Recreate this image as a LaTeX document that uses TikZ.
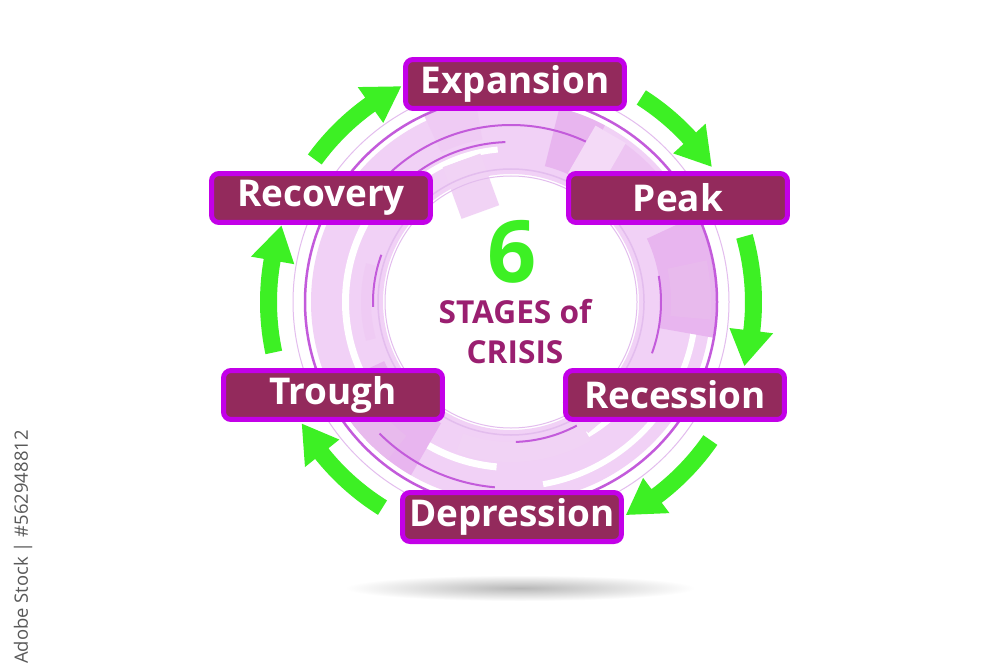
\documentclass[tikz,border=0pt]{standalone}
\usepackage{fontspec}
\setmainfont{Open Sans}
\definecolor{maroonbox}{HTML}{932A5C}
\definecolor{magborder}{HTML}{C300E8}
\definecolor{arrowgreen}{HTML}{3DF024}
\definecolor{titlecol}{HTML}{9A1F70}
\definecolor{ringpurple}{HTML}{C35BDB}
\definecolor{pinkA}{HTML}{F1D1F6}
\definecolor{pinkB}{HTML}{E8B5EF}
\definecolor{pinkC}{HTML}{DE9CE6}
\definecolor{ringlight}{HTML}{E3BDEE}
\newcommand\garrow[2]{%
  \pgfmathsetmacro\hb{#2+8.5}%
  \fill[arrowgreen] (#1:234) arc[start angle=#1, end angle=\hb, radius=234]
    -- (\hb:220) -- (#2:242) -- (\hb:264) -- (\hb:251)
    arc[start angle=\hb, end angle=#1, radius=251] -- cycle;
}
\newcommand\ringseg[5]{%
  \fill[#5] (#1:#3) arc[start angle=#1, end angle=#2, radius=#3]
    -- (#2:#4) arc[start angle=#2, end angle=#1, radius=#4] -- cycle;
}
\tikzset{
  stagebox/.style={draw=magborder, line width=0.1cm, fill=maroonbox,
    rounded corners=0.15cm, minimum width=4.38cm, minimum height=0.98cm,
    inner sep=0pt, text=white, font=\fontsize{21}{23}\selectfont\bfseries},
  arcline/.style={draw=ringpurple, line width=0.04cm},
  thinline/.style={draw=ringlight, line width=0.02cm}
}
\begin{document}
\begin{tikzpicture}[x=0.02cm, y=0.02cm]
\fill[white] (0,0) rectangle (1000,667);
\useasboundingbox (0,0) rectangle (1000,667);
% shadow
\shade[inner color=black!28, outer color=white] (520,79) ellipse [x radius=175, y radius=13];
% background decoration
\begin{scope}[shift={(511,365)}]
  \ringseg{0}{360}{128}{200}{pinkA}
  \ringseg{150}{265}{162}{169}{white}
  \ringseg{-80}{60}{182}{188}{white}
  \ringseg{95}{140}{150}{156}{white}
  \ringseg{-100}{-40}{150}{156}{white}
  \ringseg{-10}{25}{150}{205}{pinkB}
  \ringseg{-5}{12}{160}{200}{pinkC!70}
  \ringseg{205}{240}{140}{200}{pinkB}
  \ringseg{215}{232}{170}{200}{pinkC!70}
  \ringseg{100}{115}{165}{205}{pinkB!70}
  \ringseg{62}{76}{140}{200}{pinkB}
  \ringseg{40}{55}{160}{195}{pinkB!80}
  \ringseg{250}{300}{140}{160}{pinkB!60}
  \ringseg{165}{195}{140}{150}{pinkB!70}
  \fill[pinkB!60, rotate=20] (-18,95) rectangle (22,150);
  \fill[pinkB!50, rotate=-30] (-15,140) rectangle (20,195);
  \fill[pinkB!60, rotate=-140] (-20,110) rectangle (25,150);
  \draw[thinline] (0,0) circle[radius=126];
  \draw[thinline] (0,0) circle[radius=218];
  \draw[draw=ringpurple, line width=0.05cm] (0,0) circle[radius=206];
  \draw[draw=ringlight, line width=0.03cm] (0,0) circle[radius=133];
  \draw[arcline] (135:177) arc[start angle=135, end angle=65, radius=177];
  \draw[arcline] (140:160) arc[start angle=140, end angle=92, radius=160];
  \draw[arcline] (-88:140) arc[start angle=-88, end angle=-62, radius=140];
  \draw[arcline] (-95:186) arc[start angle=-95, end angle=-135, radius=186];
  \draw[arcline] (160:138) arc[start angle=160, end angle=182, radius=138];
  \draw[arcline] (-20:150) arc[start angle=-20, end angle=10, radius=150];
\end{scope}
% arrows
\begin{scope}[shift={(511,365)}]
  \garrow{144}{117}
  \garrow{57.5}{34}
  \garrow{15.7}{-15.3}
  \garrow{-34.7}{-61.6}
  \garrow{-122}{-149.8}
  \garrow{192}{161.6}
\end{scope}
% boxes
\node[stagebox] (expansion)  at (515,583) {Expansion};
\node[stagebox] (peak)       at (678,469) {Peak};
\node[stagebox] (recession)  at (675,272) {Recession};
\node[stagebox] (depression) at (512,150) {Depression};
\node[stagebox] (trough)     at (333,272) {Trough};
\node[stagebox] (recovery)   at (321,469) {Recovery};
% center text
\node[text=arrowgreen, font=\fontsize{49}{52}\selectfont\bfseries] (six) at (512,415) {6};
\node[text=titlecol, font=\fontsize{18}{20}\selectfont\bfseries] (stages) at (515,355) {STAGES of};
\node[text=titlecol, font=\fontsize{18}{20}\selectfont\bfseries] (crisis) at (515,315) {CRISIS};
% side watermark text
\node[rotate=90, anchor=east, text=black!65, font=\fontsize{10.5}{12}\selectfont, inner sep=0pt] (wm) at (23,237) {Adobe Stock | \#562948812};
\end{tikzpicture}
\end{document}
